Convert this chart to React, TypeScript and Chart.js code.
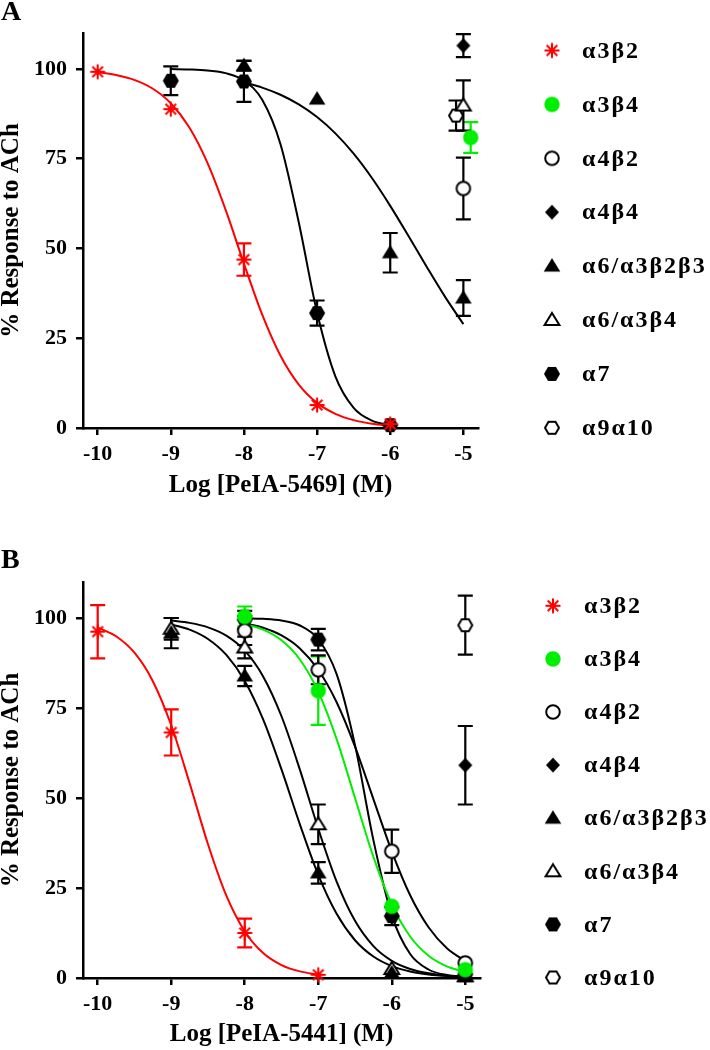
import React, { useEffect, useRef } from 'react';
import { Chart, registerables } from 'chart.js';

Chart.register(...registerables);

const FONT_FAMILY = '"Liberation Serif", "Times New Roman", Times, serif';
const RED = '#ff0000';
const GREEN = '#00ee00';
const BLACK = '#000000';

// ---- axes ----
const X_TICKS = [-10, -9, -8, -7, -6, -5];
const Y_TICKS = [0, 25, 50, 75, 100];
const FIT_X = [-10, -9.75, -9.5, -9.25, -9, -8.75, -8.5, -8.25, -8, -7.75, -7.5, -7.25, -7, -6.75, -6.5, -6.25, -6, -5.75, -5.5, -5.25, -5];

// ---- series ----
const RECEPTORS = ['α3β2', 'α3β4', 'α4β2', 'α4β4', 'α6/α3β2β3', 'α6/α3β4', 'α7', 'α9α10'];
const MARKERS = ['asterisk', 'dotGreen', 'circleOpen', 'diamond', 'triangle', 'triangleOpen', 'hexagon', 'hexagonOpen'];
const SERIES_COLORS = [RED, GREEN, BLACK, BLACK, BLACK, BLACK, BLACK, BLACK];

// ---- Panel A: PeIA-5469, points [log M, % response, SEM] ----
const A_A3B2 = [[-10, 99.2, 0], [-9, 88.8, 0], [-8, 46.9, 4.5], [-7, 6.4, 0], [-6, 1.1, 0]];
const A_A3B4 = [[-4.9, 80.9, 4.3]];
const A_A4B2 = [[-5, 66.7, 8.6]];
const A_A4B4 = [[-5, 106.5, 3.2]];
const A_A6A3B2B3 = [[-8, 100.9, 1.4], [-7, 91.6, 0], [-6, 48.8, 5.5], [-5, 36.2, 5.0]];
const A_A6A3B4 = [[-5, 89.8, 7.0]];
const A_A7 = [[-9, 96.7, 4.0], [-8, 96.5, 5.7], [-7, 32.0, 3.5], [-6, 0.8, 0]];
const A_A9A10 = [[-5.1, 87.0, 4.2]];

// fitted curves, sampled every 0.25 log unit starting at "from"
const A_FIT_A3B2 = { from: -10, y: [99.07, 98.31, 96.95, 94.55, 90.45, 83.81, 73.88, 60.72, 45.79, 31.57, 20.13, 12.1, 7.0, 3.95, 2.2, 1.21, 0.67] };
const A_FIT_A6A3B2B3 = { from: -8, y: [96.26, 94.79, 92.8, 90.12, 86.59, 82.05, 76.39, 69.61, 61.86, 53.45, 44.84, 36.52, 28.94] };
const A_FIT_A7 = { from: -9, y: [99.95, 99.85, 99.58, 98.83, 96.77, 91.39, 79.02, 57.21, 32.16, 14.4, 5.63, 2.07, 0.75] };

// ---- Panel B: PeIA-5441 ----
const B_A3B2 = [[-10, 96.2, 7.4], [-9, 68.2, 6.4], [-8, 12.5, 4.0], [-7, 0.9, 0]];
const B_A3B4 = [[-8, 100.4, 2.8], [-7, 79.8, 9.5], [-6, 19.9, 0], [-5, 2.3, 0]];
const B_A4B2 = [[-8, 96.5, 4.0], [-7, 85.6, 4.0], [-6, 35.2, 6.0], [-5, 4.2, 0]];
const B_A4B4 = [[-5, 59.1, 10.9]];
const B_A6A3B2B3 = [[-9, 95.8, 4.2], [-8, 83.9, 2.8], [-7, 29.2, 3.0], [-6, 1.4, 0], [-5, 0.4, 0]];
const B_A6A3B4 = [[-9, 97.0, 3.0], [-8, 91.8, 3.0], [-7, 42.7, 5.5], [-6, 2.5, 0], [-5, 0.5, 0]];
const B_A7 = [[-8, 99.5, 2.5], [-7, 94.0, 3.0], [-6, 17.2, 2.5], [-5, 1.0, 0]];
const B_A9A10 = [[-5, 98.0, 8.2]];

const B_FIT_A3B2 = { from: -10, y: [97.39, 94.93, 90.36, 82.45, 70.2, 54.14, 37.17, 22.87, 12.94, 6.93, 3.6, 1.84, 0.93] };
const B_FIT_A3B4 = { from: -8, y: [98.33, 96.76, 93.8, 88.47, 79.55, 66.36, 50.0, 33.65, 20.45, 11.53, 6.2, 3.24, 1.67] };
const B_FIT_A4B2 = { from: -8, y: [98.49, 97.29, 95.17, 91.55, 85.62, 76.59, 64.26, 49.7, 35.19, 22.98, 14.09, 8.27, 4.72] };
const B_FIT_A6A3B2B3 = { from: -9, y: [98.23, 96.77, 94.18, 89.74, 82.52, 71.84, 57.93, 42.68, 28.66, 17.83, 10.49, 5.96, 3.31, 1.81, 0.99, 0.54, 0.29] };
const B_FIT_A6A3B4 = { from: -9, y: [99.3, 98.65, 97.41, 95.1, 90.92, 83.78, 72.71, 57.88, 41.48, 26.77, 15.87, 8.86, 4.78, 2.52, 1.32, 0.68, 0.35] };
const B_FIT_A7 = { from: -8, y: [99.92, 99.76, 99.29, 97.92, 94.1, 84.4, 64.69, 38.3, 17.38, 6.65, 2.36, 0.81, 0.28] };

type Fit = { from: number; y: number[] } | null;

interface PanelSpec {
  letter: string;
  letterBaseline: number;
  xTitle: string;
  points: number[][][];
  fits: Fit[];
  top: number;
  bottom: number;
  right: number;
  xTitlePad: number;
  legendTop: number;
  legendStep: number;
  legendMarkerX: number;
  legendTextX: number;
}

const PANEL_A: PanelSpec = {
  letter: 'A',
  letterBaseline: 20,
  xTitle: 'Log [PeIA-5469] (M)',
  points: [A_A3B2, A_A3B4, A_A4B2, A_A4B4, A_A6A3B2B3, A_A6A3B4, A_A7, A_A9A10],
  fits: [A_FIT_A3B2, null, null, null, A_FIT_A6A3B2B3, null, A_FIT_A7, null],
  top: 33,
  bottom: 428,
  right: 478,
  xTitlePad: 24,
  legendTop: 50.5,
  legendStep: 53.9,
  legendMarkerX: 552,
  legendTextX: 582,
};

const PANEL_B: PanelSpec = {
  letter: 'B',
  letterBaseline: 43,
  xTitle: 'Log [PeIA-5441] (M)',
  points: [B_A3B2, B_A3B4, B_A4B2, B_A4B4, B_A6A3B2B3, B_A6A3B4, B_A7, B_A9A10],
  fits: [B_FIT_A3B2, B_FIT_A3B4, B_FIT_A4B2, null, B_FIT_A6A3B2B3, B_FIT_A6A3B4, B_FIT_A7, null],
  top: 57,
  bottom: 453,
  right: 480,
  xTitlePad: 0,
  legendTop: 80.8,
  legendStep: 53.1,
  legendMarkerX: 553,
  legendTextX: 584,
};

const CANVAS_W = 710;
const CANVAS_H = 525;

function makeMarker(kind: string): HTMLCanvasElement {
  const c = document.createElement('canvas');
  c.width = 22;
  c.height = 22;
  const ctx = c.getContext('2d') as CanvasRenderingContext2D;
  const cx = 11;
  const cy = 11;
  ctx.lineWidth = 2;
  ctx.strokeStyle = BLACK;
  ctx.fillStyle = BLACK;
  const poly = (pts: number[][]) => {
    ctx.beginPath();
    pts.forEach((p, i) => (i === 0 ? ctx.moveTo(cx + p[0], cy + p[1]) : ctx.lineTo(cx + p[0], cy + p[1])));
    ctx.closePath();
  };
  const hex = (r: number) => {
    const pts: number[][] = [];
    for (let k = 0; k < 6; k++) {
      const a = (k * Math.PI) / 3;
      pts.push([r * Math.cos(a), r * Math.sin(a)]);
    }
    poly(pts);
  };
  switch (kind) {
    case 'asterisk': {
      ctx.strokeStyle = RED;
      ctx.lineWidth = 2;
      const r = 7.5;
      ctx.beginPath();
      for (let i = 0; i < 4; i++) {
        const a = (i * Math.PI) / 4;
        ctx.moveTo(cx - r * Math.cos(a), cy - r * Math.sin(a));
        ctx.lineTo(cx + r * Math.cos(a), cy + r * Math.sin(a));
      }
      ctx.stroke();
      break;
    }
    case 'dotGreen':
      ctx.fillStyle = GREEN;
      ctx.beginPath();
      ctx.arc(cx, cy, 7.7, 0, Math.PI * 2);
      ctx.fill();
      break;
    case 'circleOpen':
      ctx.fillStyle = '#fff';
      ctx.beginPath();
      ctx.arc(cx, cy, 6.8, 0, Math.PI * 2);
      ctx.fill();
      ctx.stroke();
      break;
    case 'diamond':
      poly([[0, -7.5], [7, 0], [0, 7.5], [-7, 0]]);
      ctx.fill();
      break;
    case 'triangle':
      poly([[0, -8], [8.3, 5.5], [-8.3, 5.5]]);
      ctx.fill();
      break;
    case 'triangleOpen':
      ctx.fillStyle = '#fff';
      poly([[0, -7], [7.4, 5], [-7.4, 5]]);
      ctx.fill();
      ctx.stroke();
      break;
    case 'hexagon':
      hex(8);
      ctx.fill();
      break;
    case 'hexagonOpen':
      ctx.fillStyle = '#fff';
      hex(7);
      ctx.fill();
      ctx.stroke();
      break;
  }
  return c;
}

const errorBarPlugin = {
  id: 'errorBars',
  beforeDatasetsDraw(chart: any) {
    const ctx = chart.ctx;
    const yScale = chart.scales.y;
    chart.data.datasets.forEach((ds: any, i: number) => {
      if (!ds.errors) return;
      const meta = chart.getDatasetMeta(i);
      ctx.save();
      ctx.strokeStyle = ds.errorColor;
      ctx.lineWidth = 2.2;
      meta.data.forEach((el: any, j: number) => {
        const e = ds.errors[j];
        if (!e) return;
        const v = ds.data[j].y;
        const y1 = yScale.getPixelForValue(v + e);
        const y2 = yScale.getPixelForValue(v - e);
        const x = el.x;
        ctx.beginPath();
        ctx.moveTo(x, y1);
        ctx.lineTo(x, y2);
        ctx.moveTo(x - 7.5, y1);
        ctx.lineTo(x + 7.5, y1);
        ctx.moveTo(x - 7.5, y2);
        ctx.lineTo(x + 7.5, y2);
        ctx.stroke();
      });
      ctx.restore();
    });
  },
};

function makeDecorPlugin(spec: PanelSpec, markers: HTMLCanvasElement[]) {
  return {
    id: 'panelDecor',
    afterDraw(chart: any) {
      const ctx = chart.ctx;
      ctx.save();
      ctx.fillStyle = BLACK;
      ctx.textAlign = 'left';
      ctx.textBaseline = 'alphabetic';
      ctx.font = `bold 28px ${FONT_FAMILY}`;
      ctx.fillText(spec.letter, 1, spec.letterBaseline);
      ctx.font = `bold 24px ${FONT_FAMILY}`;
      try {
        (ctx as any).letterSpacing = '2px';
      } catch (e) {
        /* ignore */
      }
      ctx.textBaseline = 'middle';
      RECEPTORS.forEach((name, i) => {
        const y = spec.legendTop + i * spec.legendStep;
        const m = markers[i];
        ctx.drawImage(m, spec.legendMarkerX - m.width / 2, y - m.height / 2);
        ctx.fillText(name, spec.legendTextX, y + 1);
      });
      ctx.restore();
    },
  };
}

function buildConfig(spec: PanelSpec, markers: HTMLCanvasElement[]): any {
  const datasets: any[] = [];
  spec.points.forEach((pts, i) => {
    datasets.push({
      type: 'scatter',
      label: RECEPTORS[i],
      data: pts.map((p) => ({ x: p[0], y: p[1] })),
      errors: pts.map((p) => p[2]),
      errorColor: SERIES_COLORS[i],
      pointStyle: markers[i],
      pointRadius: 8,
      pointHoverRadius: 8,
      showLine: false,
      clip: false,
      order: 0,
    });
  });
  spec.fits.forEach((fit, i) => {
    if (!fit) return;
    const start = FIT_X.indexOf(fit.from);
    datasets.push({
      type: 'line',
      label: RECEPTORS[i] + ' fit',
      data: fit.y.map((v, k) => ({ x: FIT_X[start + k], y: v })),
      borderColor: SERIES_COLORS[i],
      borderWidth: 2,
      pointRadius: 0,
      fill: false,
      cubicInterpolationMode: 'monotone',
      clip: false,
      order: 1,
    });
  });

  const tickFont = { family: FONT_FAMILY, size: 22, weight: 'bold' };
  const titleFont = { family: FONT_FAMILY, size: 25, weight: 'bold' };

  return {
    type: 'scatter',
    data: { datasets },
    options: {
      responsive: false,
      maintainAspectRatio: false,
      devicePixelRatio: 1,
      animation: false,
      events: [],
      layout: {
        padding: { left: 0, top: spec.top, right: CANVAS_W - spec.right, bottom: 0 },
      },
      plugins: {
        legend: { display: false },
        tooltip: { enabled: false },
        title: { display: false },
      },
      scales: {
        x: {
          type: 'linear',
          position: 'bottom',
          min: -10.2,
          max: -4.8,
          afterBuildTicks: (s: any) => {
            s.ticks = X_TICKS.map((v) => ({ value: v }));
          },
          afterFit: (s: any) => {
            s.height = CANVAS_H - spec.bottom;
          },
          grid: {
            display: true,
            drawOnChartArea: false,
            drawTicks: true,
            tickLength: 7,
            color: BLACK,
            lineWidth: 2.5,
          },
          border: { display: true, color: BLACK, width: 2.5 },
          ticks: {
            color: BLACK,
            font: tickFont,
            padding: 6,
            maxRotation: 0,
            autoSkip: false,
            callback: (v: any) => String(v),
          },
          title: {
            display: true,
            text: spec.xTitle,
            color: BLACK,
            font: { ...titleFont, lineHeight: 1.2 },
            padding: { top: 0, bottom: spec.xTitlePad },
          },
        },
        y: {
          type: 'linear',
          position: 'left',
          min: 0,
          max: 110,
          afterBuildTicks: (s: any) => {
            s.ticks = Y_TICKS.map((v) => ({ value: v }));
          },
          afterFit: (s: any) => {
            s.width = 83;
          },
          grid: {
            display: true,
            drawOnChartArea: false,
            drawTicks: true,
            tickLength: 7,
            color: BLACK,
            lineWidth: 2.5,
          },
          border: { display: true, color: BLACK, width: 2.5 },
          ticks: {
            color: BLACK,
            font: tickFont,
            padding: 9,
            autoSkip: false,
            callback: (v: any) => String(v),
          },
          title: {
            display: true,
            text: '% Response to ACh',
            color: BLACK,
            font: { ...titleFont, lineHeight: 0.92 },
            padding: { top: 0, bottom: 0 },
          },
        },
      },
    },
    plugins: [errorBarPlugin, makeDecorPlugin(spec, markers)],
  };
}

function Panel({ spec }: { spec: PanelSpec }) {
  const ref = useRef<HTMLCanvasElement | null>(null);
  useEffect(() => {
    if (!ref.current) return;
    const markers = MARKERS.map(makeMarker);
    const chart = new Chart(ref.current, buildConfig(spec, markers));
    return () => chart.destroy();
  }, [spec]);
  return (
    <canvas
      ref={ref}
      width={CANVAS_W}
      height={CANVAS_H}
      style={{ display: 'block', width: CANVAS_W, height: CANVAS_H }}
    />
  );
}

export default function App() {
  return (
    <div
      style={{
        position: 'absolute',
        left: 0,
        top: 0,
        width: CANVAS_W,
        height: CANVAS_H * 2,
        background: '#fff',
      }}
    >
      <Panel spec={PANEL_A} />
      <Panel spec={PANEL_B} />
    </div>
  );
}
